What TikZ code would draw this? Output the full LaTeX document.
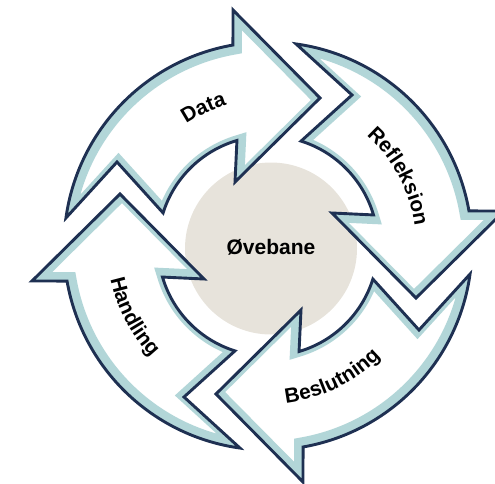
\documentclass[tikz,border=0pt]{standalone}
\usepackage{fontspec}
\setmainfont{Liberation Sans}
\usetikzlibrary{decorations.text}
\definecolor{navy}{RGB}{30,48,82}
\definecolor{tealband}{RGB}{178,214,216}
\definecolor{discgray}{RGB}{231,227,219}
\newcommand\ovArrowPath{(172.1:204) arc[start angle=172.1, end angle=99.9, radius=204] -- (-35,236) -- (52,148) -- (-33,64) -- (106.4:110) arc[start angle=106.4, end angle=162.5, radius=110] -- (-151,84) -- cycle}
\newcommand\lblfont{\bfseries\fontsize{20.8}{25}\selectfont}
\tikzset{
  cyclearrow/.pic={
    \fill[white] \ovArrowPath;
    \begin{scope}
      \clip \ovArrowPath;
      \draw[tealband, line width=15pt, shift={(1.5,-2)}] \ovArrowPath;
    \end{scope}
    \draw[navy, line width=2.9pt, line join=miter] \ovArrowPath;
  },
  arclabel/.style={decorate, decoration={text along path, text align=center, text={|\lblfont|#1}}}
}
\begin{document}
\begin{tikzpicture}[x=1pt,y=1pt]
\path[use as bounding box] (0,0) rectangle (495,483);
\clip (0,0) rectangle (495,483);
\coordinate (C) at (268,237);
\node[circle, fill=discgray, minimum size=172pt, inner sep=0pt] (disc) at (271,234.5) {};
\pic at (C) {cyclearrow};
\pic[rotate=-90] at (C) {cyclearrow};
\pic[rotate=180] at (C) {cyclearrow};
\pic[rotate=90] at (C) {cyclearrow};
\node[font=\bfseries\fontsize{21}{25}\selectfont, inner sep=0pt] (ove) at (271,236) {Øvebane};
\path[arclabel=Data] ([shift={(160:147)}]C) arc[start angle=160, end angle=70, radius=147];
\path[arclabel=Refleksion] ([shift={(73:148)}]C) arc[start angle=73, end angle=-17, radius=148];
\path[arclabel=Beslutning] ([shift={(-109:158)}]C) arc[start angle=-109, end angle=-19, radius=158];
\path[arclabel=Handling] ([shift={(162.7:161)}]C) arc[start angle=162.7, end angle=252.7, radius=161];
\end{tikzpicture}
\end{document}
